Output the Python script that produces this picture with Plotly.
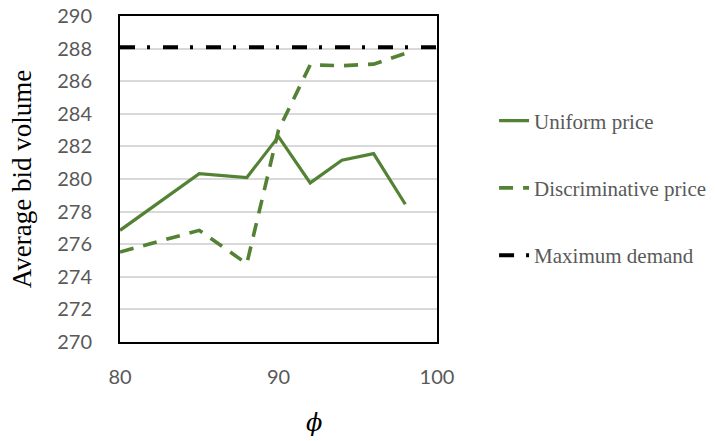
import plotly.graph_objects as go

phi = [80, 85, 88, 90, 92, 94, 96, 98]
uniform_price = [276.85, 280.33, 280.09, 282.6, 279.76, 281.15, 281.56, 278.45]
discriminative_price = [275.52, 276.85, 274.8, 283.0, 287.0, 286.95, 287.05, 287.7]
demand_phi = [80, 100]
max_demand = [288.08, 288.08]

GREEN = "#548235"
GREY = "#595959"

fig = go.Figure()
fig.add_trace(go.Scatter(
    x=phi, y=uniform_price, mode="lines", name="Uniform price",
    line=dict(color=GREEN, width=3.2), legendgroup="a"))
fig.add_trace(go.Scatter(
    x=phi, y=discriminative_price, mode="lines", name="Discriminative price",
    line=dict(color=GREEN, width=3.6, dash="14px,10px"), legendgroup="b"))
fig.add_trace(go.Scatter(
    x=demand_phi, y=max_demand, mode="lines", name="Maximum demand",
    line=dict(color="black", width=4, dash="15px,12px,3px,13px"), legendgroup="c"))

fig.update_layout(
    width=715, height=441,
    margin=dict(l=120, r=278, t=16, b=99, autoexpand=False),
    paper_bgcolor="white", plot_bgcolor="white",
    showlegend=True,
    legend=dict(
        x=1.18, xanchor="left", y=0.741, yanchor="top",
        font=dict(family="Liberation Serif, Times New Roman, serif", size=21, color=GREY),
        tracegroupgap=37, bgcolor="rgba(0,0,0,0)",
    ),
    xaxis=dict(
        range=[80, 100], tickvals=[80, 90, 100], showgrid=False, automargin=False,
        showline=True, linecolor="black", linewidth=2, mirror=True,
        ticks="", ticklabelstandoff=16, zeroline=False, ticklabeloverflow="allow",
        tickfont=dict(family="Lato, Calibri, sans-serif", size=20, color=GREY),
    ),
    yaxis=dict(
        range=[270, 290], dtick=2, showgrid=True, gridcolor="#d9d9d9", gridwidth=1.5,
        showline=True, linecolor="black", linewidth=2, mirror=True, automargin=False,
        ticks="", ticklabelstandoff=22, zeroline=False, ticklabeloverflow="allow",
        tickfont=dict(family="Lato, Calibri, sans-serif", size=20, color=GREY),
        title=dict(text="Average bid volume", standoff=18,
                   font=dict(family="Liberation Serif, Times New Roman, serif", size=27, color="black")),
    ),
    annotations=[dict(
        text="<i>ϕ</i>", xref="paper", yref="paper", x=0.612, y=-0.248,
        xanchor="center", yanchor="middle", showarrow=False,
        font=dict(family="DejaVu Serif, serif", size=24, color="black"),
    )],
)

# Remove the browser's default 8px body margin so the 715x441 figure fills the window.
fig.write_html("out.html", config={"displayModeBar": False},
               post_script="document.body.style.margin='0';")
